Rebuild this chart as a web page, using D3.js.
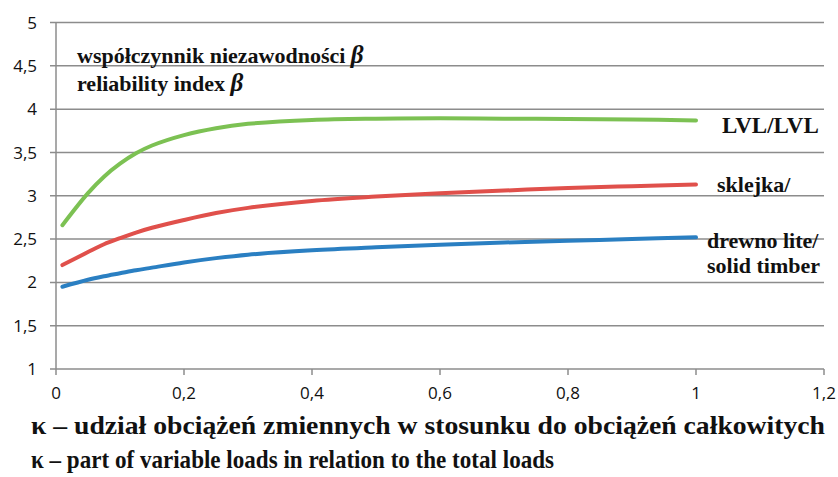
<!DOCTYPE html>
<html><head><meta charset="utf-8">
<script src="https://cdn.jsdelivr.net/npm/d3@7"></script>
<style>body{margin:0;background:#fff}</style>
</head><body>
<svg id="c" width="838" height="477"></svg>
<script>
const kappa   = [0.01, 0.05, 0.075, 0.1, 0.125, 0.15, 0.2, 0.25, 0.3, 0.4, 0.5, 0.6, 0.7, 0.8, 0.9, 1.0];
const lvl     = [2.66, 3.03, 3.22, 3.37, 3.49, 3.58, 3.70, 3.78, 3.83, 3.875, 3.89, 3.895, 3.89, 3.885, 3.88, 3.87];
const plywood = [2.20, 2.35, 2.44, 2.51, 2.575, 2.63, 2.72, 2.80, 2.86, 2.94, 2.99, 3.03, 3.06, 3.09, 3.11, 3.13];
const timber  = [1.95, 2.03, 2.07, 2.105, 2.14, 2.17, 2.23, 2.28, 2.32, 2.37, 2.405, 2.435, 2.46, 2.48, 2.50, 2.52];
const xTicks = [0, 0.2, 0.4, 0.6, 0.8, 1, 1.2];
const yTicks = [1, 1.5, 2, 2.5, 3, 3.5, 4, 4.5, 5];
const fmt = d => String(d).replace('.', ',');

const svg = d3.select('#c');
const x = d3.scaleLinear().domain([0, 1.2]).range([56, 824]);
const y = d3.scaleLinear().domain([1, 5]).range([369, 22.5]);
const grid = '#8c8c8c';

// gridlines
svg.append('g').selectAll('line').data(yTicks).join('line')
  .attr('x1', x(0) - 6).attr('x2', x(1.2)).attr('y1', d => y(d)).attr('y2', d => y(d))
  .attr('stroke', grid).attr('stroke-width', 1.5);
// y axis line
svg.append('line').attr('x1', x(0)).attr('x2', x(0)).attr('y1', y(5)).attr('y2', y(1))
  .attr('stroke', grid).attr('stroke-width', 1.5);
// x ticks
svg.append('g').selectAll('line').data(xTicks).join('line')
  .attr('x1', d => x(d)).attr('x2', d => x(d)).attr('y1', y(1)).attr('y2', y(1) + 6)
  .attr('stroke', grid).attr('stroke-width', 1.5);

// tick labels
svg.append('g').selectAll('text').data(yTicks).join('text')
  .attr('x', 37).attr('y', d => y(d)).attr('dy', '0.36em').attr('text-anchor', 'end')
  .attr('font-family', 'Open Sans, sans-serif').attr('font-size', 17).attr('fill', '#111')
  .text(fmt);
svg.append('g').selectAll('text').data(xTicks).join('text')
  .attr('x', d => x(d)).attr('y', 399).attr('text-anchor', 'middle')
  .attr('font-family', 'Open Sans, sans-serif').attr('font-size', 17).attr('fill', '#111')
  .text(fmt);

// curves
const series = [
  {vals: timber, color: '#2a7fc2'},
  {vals: plywood, color: '#e0504b'},
  {vals: lvl, color: '#7cc153'}
];
const line = d3.line().x((d, i) => x(kappa[i])).y(d => y(d)).curve(d3.curveCatmullRom.alpha(0.5));
series.forEach(s => {
  svg.append('path').attr('d', line(s.vals)).attr('fill', 'none')
    .attr('stroke', s.color).attr('stroke-width', 4).attr('stroke-linecap', 'round');
});

const serif = "'Liberation Serif', 'Times New Roman', serif";
function label(txt, xx, yy, size) {
  return svg.append('text').attr('x', xx).attr('y', yy).attr('font-family', serif)
    .attr('font-weight', 'bold').attr('font-size', size).attr('fill', '#111').text(txt);
}
// annotation
const t1 = label('współczynnik niezawodności ', 77, 63, 22);
t1.append('tspan').attr('font-style', 'italic').attr('font-size', 25).text('β');
const t2 = label('reliability index ', 77, 91, 22);
t2.append('tspan').attr('font-style', 'italic').attr('font-size', 25).text('β');

label('LVL/LVL', 722, 133, 23);
label('sklejka/', 717, 192, 22);
label('drewno lite/', 707, 248, 22);
label('solid timber', 707, 273, 22);

label('κ – udział obciążeń zmiennych w stosunku do obciążeń całkowitych', 31, 434, 26)
  .attr('textLength', 794).attr('lengthAdjust', 'spacingAndGlyphs');
label('κ – part of variable loads in relation to the total loads', 31, 468, 26)
  .attr('textLength', 523).attr('lengthAdjust', 'spacingAndGlyphs');
</script>
</body></html>
